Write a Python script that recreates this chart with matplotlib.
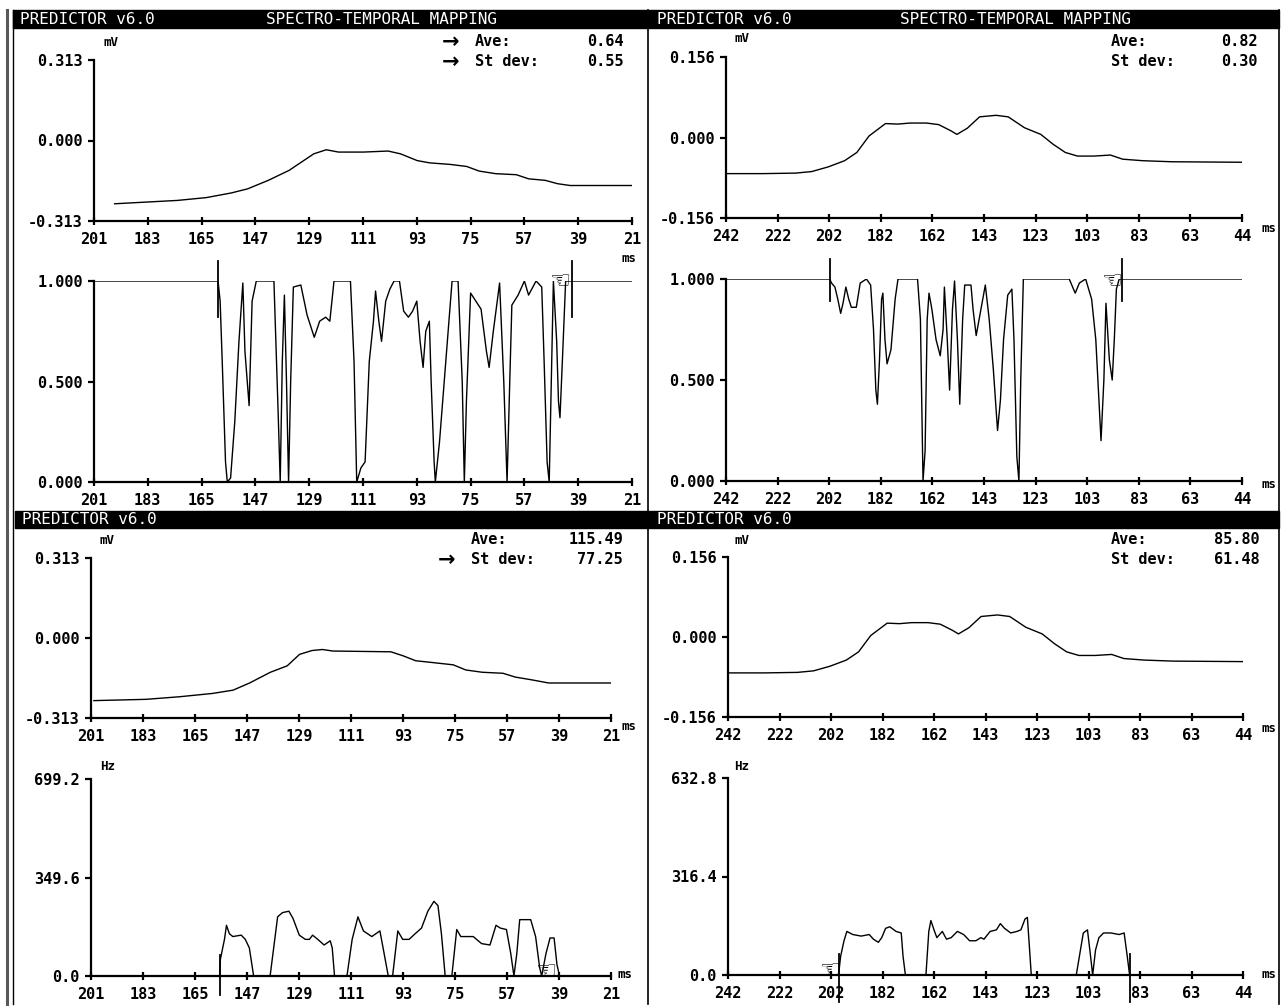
import matplotlib
matplotlib.use("Agg")
import numpy as np
import matplotlib.pyplot as plt
from matplotlib.patches import Rectangle
from matplotlib.lines import Line2D

W, H = 1282, 1007
FONT = "DejaVu Sans Mono"

# ---- data -----------------------------------------------------------------
# upper left: averaged ECG (mV) vs ms
UL_ECG_MS = [194.1, 182.8, 173.1, 163.4, 155.1, 149.6, 142.7, 135.7, 131.6, 127.5,
             123.3, 119.2, 110.9, 102.6, 98.4, 92.9, 88.7, 81.8, 76.3, 72.1,
             66.6, 59.7, 55.6, 50.0, 45.9, 41.7, 21.0]
UL_ECG_MV = [-0.246, -0.239, -0.233, -0.222, -0.204, -0.188, -0.155, -0.116, -0.084, -0.052,
             -0.036, -0.045, -0.045, -0.041, -0.052, -0.078, -0.087, -0.093, -0.101, -0.119,
             -0.129, -0.133, -0.149, -0.155, -0.168, -0.175, -0.175]

# lower left: same lead, second pass
LL_ECG_MS = [200.0, 182.0, 170.5, 159.0, 151.8, 146.1, 138.9, 133.1, 128.8, 124.5,
             120.9, 117.3, 97.2, 92.9, 88.6, 82.8, 75.6, 71.3, 65.6, 58.4,
             54.1, 48.3, 42.6, 21.0]
LL_ECG_MV = [-0.245, -0.240, -0.230, -0.217, -0.204, -0.176, -0.134, -0.109, -0.064, -0.049,
             -0.045, -0.051, -0.054, -0.070, -0.089, -0.096, -0.105, -0.125, -0.134, -0.138,
             -0.153, -0.164, -0.176, -0.176]

# right column ECG (both quadrants)
R_ECG_MS = [242.0, 227.9, 215.3, 209.1, 202.8, 196.5, 191.8, 187.1, 180.8, 176.1,
            171.4, 165.1, 160.4, 155.7, 153.4, 149.4, 144.7, 138.4, 133.7, 127.5,
            121.2, 116.5, 111.8, 107.1, 100.8, 94.5, 89.8, 82.0, 71.0, 44.0]
R_ECG_MV = [-0.070, -0.070, -0.069, -0.066, -0.057, -0.045, -0.029, 0.003, 0.027, 0.026,
            0.028, 0.028, 0.025, 0.013, 0.006, 0.018, 0.040, 0.043, 0.040, 0.019,
            0.006, -0.013, -0.029, -0.036, -0.036, -0.034, -0.042, -0.045, -0.047, -0.048]

# upper left: spectral coherence (0..1)
UL_COH_MS = [201.0, 159.5, 158.8, 158.1, 157.0, 156.4, 155.3, 153.9, 152.5, 151.2,
             150.5, 149.1, 148.1, 146.7, 140.8, 139.4, 138.7, 138.0, 137.3, 136.6,
             135.9, 135.2, 134.3, 131.8, 129.7, 127.3, 125.5, 123.5, 122.1, 120.7,
             115.2, 114.0, 113.1, 111.7, 110.3, 108.9, 107.5, 106.8, 105.7, 104.8,
             103.4, 102.0, 100.6, 98.8, 97.4, 95.8, 94.4, 93.0, 91.9, 90.9,
             90.0, 88.8, 88.2, 87.2, 86.8, 85.4, 83.3, 81.2, 79.2, 77.8,
             77.1, 76.4, 75.0, 71.5, 69.7, 68.8, 67.4, 65.3, 63.9, 62.8,
             61.9, 61.2, 59.1, 57.0, 55.6, 53.1, 51.2, 50.4, 49.4, 48.7,
             48.0, 47.3, 46.2, 45.6, 45.1, 44.3, 43.2, 41.1, 21.0]
UL_COH = [1.0, 1.0, 0.9, 0.6, 0.1, 0.0, 0.02, 0.3, 0.7, 0.99,
          0.65, 0.38, 0.9, 1.0, 1.0, 0.35, 0.0, 0.6, 0.93, 0.5,
          0.0, 0.5, 0.97, 0.98, 0.83, 0.72, 0.8, 0.82, 0.8, 1.0,
          1.0, 0.6, 0.0, 0.07, 0.1, 0.6, 0.8, 0.95, 0.8, 0.7,
          0.9, 0.96, 1.0, 1.0, 0.85, 0.82, 0.85, 0.9, 0.7, 0.57,
          0.75, 0.8, 0.5, 0.1, 0.0, 0.2, 0.6, 1.0, 1.0, 0.5,
          0.0, 0.4, 0.94, 0.86, 0.65, 0.57, 0.75, 0.99, 0.5, 0.0,
          0.5, 0.88, 0.93, 1.0, 0.93, 1.0, 0.97, 0.6, 0.1, 0.0,
          0.5, 1.0, 0.7, 0.4, 0.32, 0.6, 1.0, 1.0, 1.0]

# upper right: spectral coherence
UR_COH_MS = [242.0, 202.2, 201.5, 200.2, 199.1, 198.0, 197.1, 196.0, 194.9, 193.9,
             192.0, 190.5, 188.1, 186.5, 185.4, 184.5, 183.9, 183.1, 182.3, 181.8,
             181.0, 180.2, 178.7, 177.1, 176.0, 168.5, 167.4, 166.4, 165.6, 164.8,
             164.1, 163.0, 161.4, 159.8, 158.7, 158.2, 157.1, 156.2, 155.1, 154.3,
             153.2, 152.3, 151.2, 150.4, 148.0, 147.2, 146.0, 144.6, 142.5, 141.0,
             139.4, 137.8, 136.7, 135.5, 133.9, 132.3, 131.5, 130.4, 129.6, 128.9,
             127.9, 110.3, 108.0, 106.4, 104.0, 101.7, 100.1, 98.5, 98.1, 97.0,
             96.2, 94.9, 93.8, 93.0, 92.2, 91.1, 90.2, 44.0]
UR_COH = [1.0, 1.0, 0.98, 0.96, 0.9, 0.83, 0.88, 0.96, 0.9, 0.86,
          0.86, 0.98, 1.0, 0.97, 0.75, 0.45, 0.38, 0.6, 0.9, 0.93,
          0.7, 0.58, 0.65, 0.9, 1.0, 1.0, 0.8, 0.0, 0.15, 0.8,
          0.93, 0.85, 0.7, 0.62, 0.75, 0.96, 0.7, 0.45, 0.85, 0.99,
          0.7, 0.38, 0.8, 0.97, 0.97, 0.85, 0.72, 0.82, 0.97, 0.8,
          0.55, 0.25, 0.4, 0.7, 0.92, 0.95, 0.7, 0.12, 0.0, 0.5,
          1.0, 1.0, 0.93, 0.98, 1.0, 0.9, 0.7, 0.3, 0.2, 0.5,
          0.88, 0.6, 0.5, 0.7, 0.95, 1.0, 1.0, 1.0]

# lower left: dominant frequency (Hz)
LL_HZ_MS = [201.0, 156.5, 156.2, 154.8, 154.1, 153.1, 151.9, 149.0, 147.6, 146.2,
            144.7, 139.0, 136.4, 134.7, 132.5, 131.1, 128.9, 126.8, 125.4, 124.3,
            122.5, 120.3, 118.2, 117.5, 116.7, 112.4, 110.6, 108.6, 106.7, 103.8,
            101.0, 99.9, 98.1, 96.6, 94.8, 93.1, 90.9, 88.8, 86.6, 84.4,
            82.3, 80.9, 79.7, 78.4, 76.1, 74.4, 73.0, 68.7, 65.8, 62.9,
            60.8, 59.3, 57.2, 55.7, 54.6, 53.6, 52.6, 48.8, 47.1, 45.7,
            45.0, 43.5, 42.1, 40.7, 39.7, 38.8, 21.0]
LL_HZ = [0, 0, 60, 130, 180, 150, 140, 145, 130, 100,
         0, 0, 210, 225, 230, 205, 145, 130, 130, 145,
         130, 110, 125, 100, 0, 0, 130, 210, 160, 140,
         160, 100, 0, 0, 160, 130, 130, 150, 170, 230,
         265, 250, 150, 0, 0, 165, 140, 140, 115, 110,
         180, 170, 165, 80, 0, 80, 200, 200, 140, 30,
         0, 80, 135, 135, 40, 0, 0]

# lower right: dominant frequency (Hz)
LR_HZ_MS = [242.0, 199.5, 198.7, 197.4, 196.3, 194.0, 190.8, 187.7, 186.1, 184.2,
            182.9, 181.4, 179.8, 177.4, 175.4, 174.7, 173.8, 165.9, 164.8, 164.0,
            162.8, 161.7, 159.6, 158.0, 156.2, 153.8, 151.4, 149.1, 146.7, 144.8,
            143.6, 141.2, 138.8, 137.3, 135.7, 133.3, 130.9, 129.4, 127.8, 126.9,
            126.2, 125.4, 108.1, 106.5, 105.4, 103.8, 102.6, 101.8, 100.7, 99.4,
            97.6, 94.8, 91.6, 89.7, 88.5, 87.6, 44.0]
LR_HZ = [0, 0, 60, 110, 140, 130, 125, 130, 115, 105,
         120, 150, 155, 140, 135, 60, 0, 0, 140, 175,
         145, 120, 140, 115, 120, 140, 130, 110, 110, 120,
         115, 140, 145, 165, 150, 135, 140, 145, 180, 185,
         100, 0, 0, 80, 135, 145, 60, 0, 80, 120,
         135, 135, 130, 135, 60, 0, 0]

# cursor positions (ms) and pointer icon (ms, value)
UL_CURSORS = [159.5, 41.1]
UR_CURSORS = [202.2, 90.2]
LL_CURSORS = [156.5]
LR_CURSORS = [199.2, 87.6]
ICONS = [(45.0, 1.0), (93.5, 0.99), (43.5, 15.0), (202.5, 15.0)]

AVE_VALUES = ["0.64", "0.82", "115.49", "85.80"]
STDEV_VALUES = ["0.55", "0.30", "77.25", "61.48"]

LEFT_XLABELS = ["201", "183", "165", "147", "129", "111", "93", "75", "57", "39", "21"]
RIGHT_XLABELS = ["242", "222", "202", "182", "162", "143", "123", "103", "83", "63", "44"]


def box(x0, y0, x1, y1):
    return [x0 / W, 1 - y1 / H, (x1 - x0) / W, (y1 - y0) / H]


def fxy(x, y):
    return x / W, 1 - y / H


def setup(ax, xlim, xlabels, ylim, yticks, ylabels):
    ax.set_xlim(*xlim)
    ax.set_ylim(*ylim)
    ax.set_xticks(np.linspace(xlim[0], xlim[1], len(xlabels)))
    ax.set_xticklabels(xlabels)
    ax.set_yticks(yticks)
    ax.set_yticklabels(ylabels)
    for s in ("top", "right"):
        ax.spines[s].set_visible(False)
    for s in ("left", "bottom"):
        ax.spines[s].set_linewidth(1.6)
    ax.tick_params(axis="x", direction="inout", length=6, width=1.6, pad=5)
    ax.tick_params(axis="y", direction="out", length=4, width=1.6, pad=4)
    for lab in ax.get_xticklabels() + ax.get_yticklabels():
        lab.set_fontfamily(FONT)
        lab.set_fontweight("bold")
        lab.set_fontsize(11)
    ax.patch.set_alpha(0)


def cursors(ax, xs, y0, y1):
    for x in xs:
        ax.plot([x, x], [y0, y1], color="black", lw=1.3, clip_on=False)


def icon(ax, x, y):
    ax.text(x, y, "\u261c", fontsize=17, family="DejaVu Sans", fontweight="bold",
            ha="center", va="center", clip_on=False)


def ftext(fig, x, y, s, **kw):
    kw.setdefault("family", FONT)
    kw.setdefault("fontweight", "bold")
    kw.setdefault("fontsize", 11)
    kw.setdefault("va", "center")
    fig.text(*fxy(x, y), s, **kw)


def main():
    fig = plt.figure(figsize=(W / 100, H / 100), dpi=100)

    # frame lines and header bars
    for x, lw, c in [(7, 2.2, "0.35"), (13, 1.0, "black"), (648, 1.2, "black"), (1279, 1.2, "black")]:
        fig.add_artist(Line2D([x / W, x / W], [1 - 10 / H, 1 - 1004 / H], color=c, lw=lw))
    for y0, y1, x0 in [(10, 28, 13), (511, 528, 15)]:
        fig.add_artist(Rectangle(fxy(x0, y1), (1279 - x0) / W, (y1 - y0) / H,
                                 color="black", transform=fig.transFigure))
    hdr = dict(color="white", fontweight="normal", fontsize=11.5)
    ftext(fig, 20, 19, "PREDICTOR v6.0", **hdr)
    ftext(fig, 266, 19, "SPECTRO-TEMPORAL MAPPING", **hdr)
    ftext(fig, 657, 19, "PREDICTOR v6.0", **hdr)
    ftext(fig, 900, 19, "SPECTRO-TEMPORAL MAPPING", **hdr)
    ftext(fig, 22, 520, "PREDICTOR v6.0", **hdr)
    ftext(fig, 657, 520, "PREDICTOR v6.0", **hdr)

    mv_ticks = [-0.313, 0.0, 0.313]
    mv_labels = ["-0.313", "0.000", "0.313"]
    rmv_ticks = [-0.156, 0.0, 0.156]
    rmv_labels = ["-0.156", "0.000", "0.156"]
    coh_ticks = [0.0, 0.5, 1.0]
    coh_labels = ["0.000", "0.500", "1.000"]

    # ---- upper left
    ax = fig.add_axes(box(94, 60, 632, 221))
    ax.plot(UL_ECG_MS, UL_ECG_MV, color="black", lw=1.0)
    setup(ax, (201, 21), LEFT_XLABELS, (-0.313, 0.313), mv_ticks, mv_labels)
    ax = fig.add_axes(box(94, 281, 632, 482))
    ax.plot(UL_COH_MS, UL_COH, color="black", lw=1.0)
    setup(ax, (201, 21), LEFT_XLABELS, (0, 1), coh_ticks, coh_labels)
    cursors(ax, UL_CURSORS, 0.82, 1.10)
    icon(ax, *ICONS[0])

    # ---- upper right
    ax = fig.add_axes(box(726, 57, 1242, 218))
    ax.plot(R_ECG_MS, R_ECG_MV, color="black", lw=1.0)
    setup(ax, (242, 44), RIGHT_XLABELS, (-0.156, 0.156), rmv_ticks, rmv_labels)
    ax = fig.add_axes(box(726, 279, 1242, 481))
    ax.plot(UR_COH_MS, UR_COH, color="black", lw=1.0)
    setup(ax, (242, 44), RIGHT_XLABELS, (0, 1), coh_ticks, coh_labels)
    cursors(ax, UR_CURSORS, 0.89, 1.10)
    icon(ax, *ICONS[1])

    # ---- lower left
    ax = fig.add_axes(box(91, 558, 611, 718))
    ax.plot(LL_ECG_MS, LL_ECG_MV, color="black", lw=1.0)
    setup(ax, (201, 21), LEFT_XLABELS, (-0.313, 0.313), mv_ticks, mv_labels)
    ax = fig.add_axes(box(91, 779, 611, 976))
    ax.plot(LL_HZ_MS, LL_HZ, color="black", lw=1.0)
    setup(ax, (201, 21), LEFT_XLABELS, (0, 699.2), [0, 349.6, 699.2], ["0.0", "349.6", "699.2"])
    cursors(ax, LL_CURSORS, -67, 75)
    icon(ax, *ICONS[2])

    # ---- lower right
    ax = fig.add_axes(box(728, 557, 1243, 717))
    ax.plot(R_ECG_MS, R_ECG_MV, color="black", lw=1.0)
    setup(ax, (242, 44), RIGHT_XLABELS, (-0.156, 0.156), rmv_ticks, rmv_labels)
    ax = fig.add_axes(box(728, 778, 1243, 975))
    ax.plot(LR_HZ_MS, LR_HZ, color="black", lw=1.0)
    setup(ax, (242, 44), RIGHT_XLABELS, (0, 632.8), [0, 316.4, 632.8], ["0.0", "316.4", "632.8"])
    cursors(ax, LR_CURSORS, -87, 69)
    icon(ax, *ICONS[3])

    # unit labels
    small = dict(fontsize=9)
    for x, y, s in [(103, 42, "mV"), (734, 39, "mV"), (100, 540, "mV"), (734, 540, "mV"),
                    (100, 766, "Hz"), (734, 766, "Hz"),
                    (621, 258, "ms"), (1262, 228, "ms"), (1262, 484, "ms"),
                    (622, 726, "ms"), (618, 975, "ms"), (1262, 728, "ms"), (1262, 975, "ms")]:
        ftext(fig, x, y, s, **small)

    # statistics boxes
    stat_pos = [(475, 624, 42, 62), (1111, 1258, 42, 62), (471, 623, 540, 560), (1111, 1260, 540, 560)]
    arrows = [(True, True), (False, False), (False, True), (False, False)]
    for (xl, xr, ya, ys), ave, sd, (aa, asd) in zip(stat_pos, AVE_VALUES, STDEV_VALUES, arrows):
        ftext(fig, xl, ya, "Ave:")
        ftext(fig, xl, ys, "St dev:")
        ftext(fig, xr, ya, ave, ha="right")
        ftext(fig, xr, ys, sd, ha="right")
        for flag, y in [(aa, ya), (asd, ys)]:
            if flag:
                ftext(fig, xl - 33, y, "\u2192", fontsize=15, family="DejaVu Sans")

    fig.savefig("out.png", dpi=100, facecolor="white")
    plt.close(fig)


if __name__ == "__main__":
    main()
